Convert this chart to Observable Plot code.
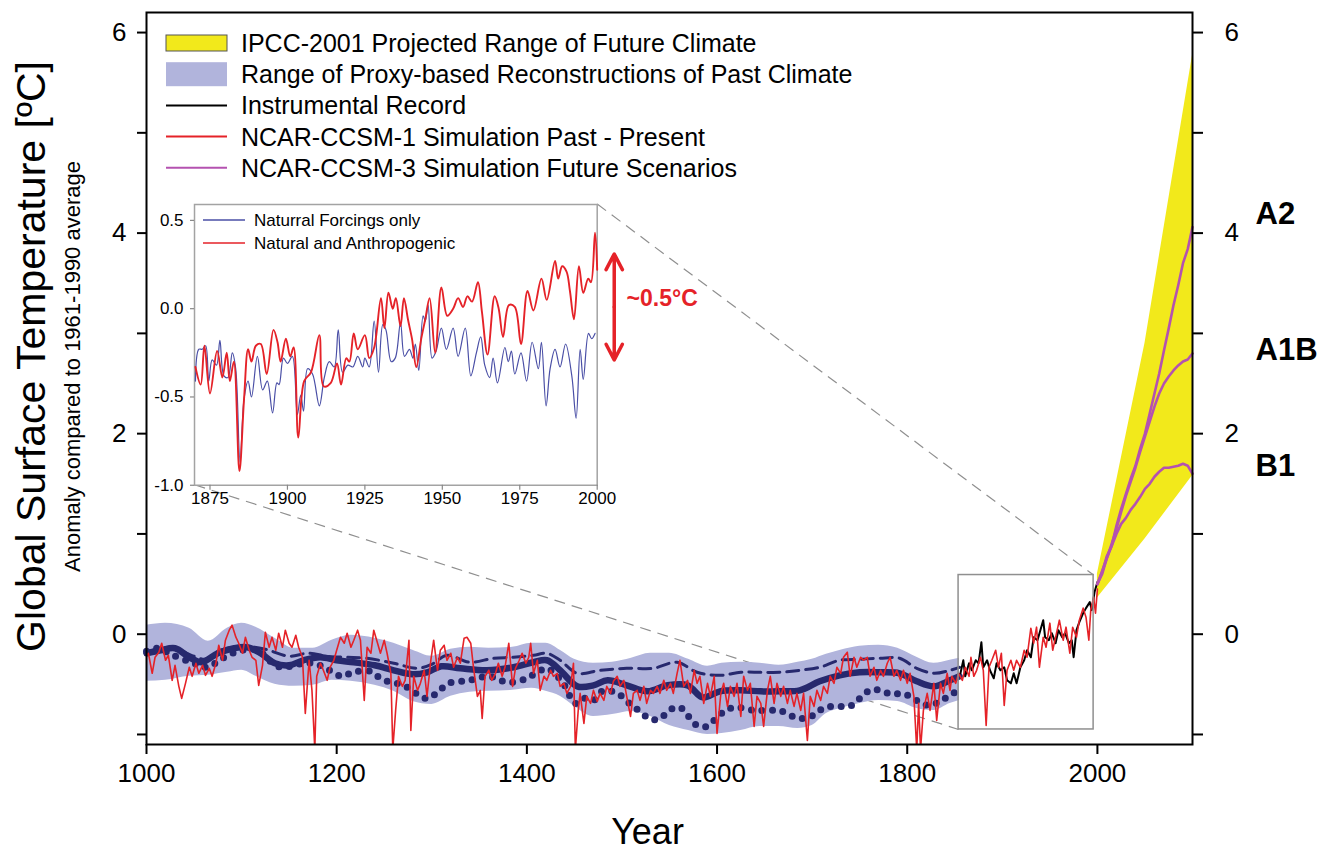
<!DOCTYPE html>
<html><head><meta charset="utf-8">
<script src="https://cdn.jsdelivr.net/npm/d3@7"></script>
<script src="https://cdn.jsdelivr.net/npm/@observablehq/plot@0.6"></script>
<style>
html,body{margin:0;padding:0;background:#fff;}
#wrap{position:relative;width:1325px;height:854px;overflow:hidden;font-family:"Liberation Sans",Arial,Helvetica,sans-serif;}
#wrap > svg{position:absolute;left:0;top:0;}
</style></head><body><div id="wrap"></div>
<script>
// ---------------- DATA ----------------
const xTicks = [1000, 1200, 1400, 1600, 1800, 2000];
const yTicks = [-1, 0, 1, 2, 3, 4, 5, 6];
const yLabelled = [0, 2, 4, 6];

// Range of proxy-based reconstructions (band)
const bandYears = [1000,1020,1045,1065,1085,1100,1115,1135,1155,1175,1195,1215,1240,1260,1280,1300,1320,1340,1360,1385,1405,1420,1435,1450,1470,1490,1510,1530,1550,1570,1590,1605,1625,1645,1665,1685,1700,1715,1730,1750,1770,1790,1810,1828,1845,1855];
const bandUpper = [0.09,0.11,0.06,-0.07,0.06,0.11,0.07,-0.04,-0.14,-0.14,-0.06,-0.01,-0.04,-0.09,-0.16,-0.22,-0.15,-0.13,-0.14,-0.13,-0.09,-0.09,-0.16,-0.25,-0.29,-0.28,-0.24,-0.19,-0.19,-0.25,-0.32,-0.29,-0.28,-0.29,-0.31,-0.28,-0.25,-0.20,-0.16,-0.12,-0.11,-0.14,-0.23,-0.29,-0.26,-0.24];
const bandLower = [-0.47,-0.46,-0.42,-0.41,-0.38,-0.36,-0.42,-0.50,-0.52,-0.51,-0.46,-0.47,-0.51,-0.57,-0.67,-0.70,-0.62,-0.58,-0.57,-0.56,-0.54,-0.57,-0.62,-0.72,-0.82,-0.80,-0.77,-0.82,-0.91,-0.96,-1.0,-0.99,-0.96,-0.92,-0.92,-0.94,-0.91,-0.79,-0.74,-0.69,-0.66,-0.67,-0.74,-0.76,-0.69,-0.66];

// Reconstructions (solid thick, dashed, dotted)
const reconSolid = [[1000,-0.19],[1015,-0.16],[1030,-0.14],[1045,-0.23],[1058,-0.28],[1075,-0.19],[1092,-0.14],[1106,-0.13],[1120,-0.19],[1135,-0.29],[1150,-0.31],[1165,-0.26],[1183,-0.23],[1200,-0.26],[1218,-0.28],[1240,-0.31],[1260,-0.36],[1280,-0.40],[1295,-0.38],[1310,-0.32],[1330,-0.34],[1358,-0.36],[1386,-0.33],[1407,-0.28],[1421,-0.26],[1435,-0.36],[1453,-0.52],[1470,-0.51],[1485,-0.46],[1505,-0.51],[1527,-0.57],[1548,-0.51],[1569,-0.51],[1585,-0.63],[1603,-0.57],[1625,-0.56],[1646,-0.57],[1666,-0.57],[1687,-0.56],[1708,-0.47],[1729,-0.41],[1750,-0.38],[1771,-0.38],[1792,-0.39],[1810,-0.47],[1828,-0.52],[1845,-0.46],[1855,-0.42]];
const reconDashed = [[1000,-0.18],[1025,-0.13],[1050,-0.22],[1062,-0.25],[1078,-0.16],[1100,-0.12],[1125,-0.15],[1150,-0.22],[1170,-0.19],[1190,-0.22],[1210,-0.23],[1232,-0.24],[1260,-0.29],[1285,-0.34],[1300,-0.30],[1316,-0.21],[1340,-0.28],[1365,-0.24],[1386,-0.23],[1407,-0.21],[1421,-0.19],[1435,-0.26],[1453,-0.39],[1477,-0.36],[1505,-0.34],[1533,-0.34],[1558,-0.28],[1579,-0.38],[1603,-0.41],[1625,-0.38],[1646,-0.38],[1666,-0.38],[1687,-0.36],[1708,-0.33],[1729,-0.26],[1750,-0.25],[1771,-0.24],[1792,-0.24],[1810,-0.34],[1828,-0.39],[1845,-0.36],[1855,-0.33]];
const reconDotted = [[1000,-0.17],[1012,-0.14],[1028,-0.21],[1050,-0.29],[1063,-0.33],[1072,-0.29],[1082,-0.23],[1100,-0.16],[1117,-0.16],[1127,-0.24],[1135,-0.31],[1144,-0.33],[1165,-0.29],[1175,-0.29],[1187,-0.33],[1196,-0.38],[1206,-0.42],[1217,-0.38],[1236,-0.37],[1246,-0.44],[1257,-0.48],[1267,-0.50],[1278,-0.55],[1288,-0.62],[1297,-0.64],[1307,-0.57],[1318,-0.49],[1339,-0.46],[1360,-0.42],[1380,-0.48],[1400,-0.44],[1411,-0.38],[1421,-0.34],[1430,-0.40],[1439,-0.50],[1451,-0.69],[1460,-0.64],[1470,-0.66],[1479,-0.57],[1490,-0.57],[1500,-0.62],[1510,-0.71],[1519,-0.77],[1530,-0.85],[1540,-0.84],[1551,-0.75],[1561,-0.73],[1570,-0.82],[1579,-0.91],[1589,-0.92],[1598,-0.85],[1609,-0.76],[1619,-0.73],[1640,-0.76],[1661,-0.76],[1672,-0.78],[1682,-0.83],[1692,-0.84],[1703,-0.80],[1713,-0.73],[1734,-0.72],[1744,-0.70],[1753,-0.61],[1764,-0.55],[1774,-0.57],[1784,-0.60],[1794,-0.59],[1805,-0.63],[1815,-0.69],[1826,-0.71],[1835,-0.66],[1846,-0.61],[1856,-0.52]];

// NCAR-CSM-1 simulation, past - present
const csm1 = [[999,-0.23],[1002,-0.19],[1006,-0.39],[1009,-0.23],[1013,-0.18],[1016,-0.09],[1020,-0.26],[1023,-0.21],[1027,-0.46],[1030,-0.31],[1034,-0.52],[1037,-0.64],[1041,-0.49],[1045,-0.33],[1048,-0.42],[1052,-0.29],[1055,-0.39],[1059,-0.31],[1062,-0.41],[1066,-0.34],[1069,-0.42],[1073,-0.29],[1076,-0.11],[1080,-0.26],[1083,-0.06],[1087,0.04],[1090,0.09],[1094,-0.03],[1097,-0.09],[1101,-0.19],[1104,-0.03],[1108,-0.16],[1111,-0.23],[1115,-0.26],[1118,-0.51],[1122,-0.31],[1125,0.02],[1129,-0.13],[1132,-0.03],[1136,-0.16],[1139,0.01],[1143,-0.13],[1146,0.04],[1150,-0.09],[1153,-0.13],[1157,-0.01],[1160,-0.13],[1164,-0.23],[1167,-0.79],[1171,-0.26],[1174,-0.56],[1177,-1.15],[1179,-0.42],[1183,-0.29],[1186,-0.36],[1190,-0.46],[1193,-0.33],[1197,-0.26],[1200,-0.16],[1204,-0.03],[1208,-0.09],[1211,0.01],[1215,-0.13],[1218,-0.06],[1222,0.04],[1225,-0.06],[1229,-0.66],[1232,-0.13],[1236,-0.19],[1239,0.04],[1243,-0.09],[1246,-0.19],[1250,-0.06],[1253,-0.19],[1257,-0.39],[1259,-1.15],[1262,-0.76],[1265,-0.42],[1269,-0.52],[1272,-0.46],[1276,-0.06],[1278,-0.96],[1281,-0.42],[1285,-0.56],[1288,-0.49],[1292,-0.36],[1295,-0.62],[1299,-0.26],[1302,-0.06],[1306,-0.36],[1309,-0.16],[1313,-0.11],[1316,-0.26],[1320,-0.19],[1323,-0.33],[1327,-0.23],[1330,-0.29],[1334,-0.04],[1337,-0.03],[1341,-0.09],[1344,-0.34],[1348,-0.62],[1351,-0.56],[1353,-0.84],[1356,-0.42],[1360,-0.36],[1363,-0.46],[1367,-0.39],[1370,-0.29],[1374,-0.42],[1377,-0.33],[1381,-0.09],[1385,-0.52],[1388,-0.34],[1392,-0.26],[1395,-0.19],[1399,-0.29],[1402,-0.23],[1404,-0.09],[1407,-0.39],[1411,-0.26],[1414,-0.56],[1418,-0.42],[1421,-0.46],[1425,-0.36],[1428,-0.42],[1432,-0.39],[1435,-0.52],[1439,-0.49],[1442,-0.59],[1446,-0.52],[1449,-0.29],[1451,-1.15],[1454,-0.76],[1456,-0.59],[1460,-0.89],[1463,-0.62],[1467,-0.69],[1470,-0.56],[1474,-0.67],[1477,-0.59],[1481,-0.66],[1484,-0.52],[1488,-0.59],[1491,-0.47],[1495,-0.42],[1498,-0.52],[1502,-0.46],[1505,-0.62],[1509,-0.82],[1512,-0.59],[1516,-0.56],[1519,-0.66],[1523,-0.52],[1526,-0.69],[1530,-0.56],[1533,-0.59],[1537,-0.52],[1540,-0.59],[1544,-0.46],[1547,-0.56],[1551,-0.49],[1554,-0.59],[1558,-0.39],[1561,-0.26],[1565,-0.52],[1569,-0.46],[1572,-0.59],[1576,-0.36],[1579,-0.49],[1582,-0.42],[1586,-0.69],[1590,-0.49],[1593,-0.62],[1597,-0.42],[1600,-0.99],[1604,-0.59],[1607,-0.49],[1611,-0.72],[1614,-0.52],[1618,-0.62],[1621,-0.49],[1625,-0.82],[1628,-0.42],[1632,-0.56],[1635,-0.49],[1639,-0.92],[1642,-0.62],[1646,-0.69],[1649,-0.92],[1653,-0.56],[1656,-0.42],[1660,-0.69],[1663,-0.49],[1667,-0.62],[1670,-0.52],[1674,-0.69],[1677,-0.56],[1681,-0.72],[1684,-0.59],[1688,-0.76],[1691,-0.59],[1695,-1.06],[1698,-0.62],[1702,-0.72],[1705,-0.56],[1709,-0.66],[1712,-0.52],[1716,-0.59],[1719,-0.42],[1723,-0.49],[1726,-0.33],[1730,-0.39],[1733,-0.23],[1737,-0.18],[1740,-0.42],[1744,-0.23],[1747,-0.33],[1751,-0.23],[1754,-0.26],[1758,-0.23],[1761,-0.42],[1765,-0.33],[1768,-0.46],[1772,-0.36],[1775,-0.42],[1779,-0.29],[1782,-0.23],[1786,-0.42],[1789,-0.36],[1793,-0.46],[1796,-0.36],[1800,-0.49],[1803,-0.39],[1807,-0.62],[1810,-1.15],[1812,-0.69],[1814,-1.15],[1817,-0.76],[1821,-0.59],[1824,-0.76],[1828,-0.49],[1831,-0.86],[1835,-0.49],[1838,-0.59],[1842,-0.39],[1845,-0.56],[1847,-0.42],[1851,-0.49],[1854,-0.39],[1858,-0.46],[1861,-0.33],[1865,-0.42],[1867,-0.23],[1870,-0.42],[1873,-0.36],[1877,-0.23],[1880,-0.36],[1883,-0.91],[1886,-0.33],[1889,-0.26],[1893,-0.16],[1896,-0.33],[1899,-0.19],[1902,-0.71],[1905,-0.36],[1909,-0.26],[1912,-0.36],[1915,-0.26],[1919,-0.33],[1923,-0.16],[1926,-0.23],[1930,0.06],[1933,-0.09],[1936,0.07],[1939,-0.33],[1943,-0.03],[1946,-0.13],[1950,0.11],[1953,-0.16],[1957,0.01],[1960,0.14],[1964,-0.06],[1967,0.07],[1971,-0.19],[1974,0.07],[1978,-0.03],[1981,0.14],[1985,0.26],[1988,0.17],[1991,-0.06],[1993,0.24],[1996,0.37],[1998,0.21],[2000,0.45]];

// Instrumental record
const instrumental = [[1856,-0.39],[1859,-0.26],[1861,-0.42],[1865,-0.29],[1868,-0.36],[1872,-0.26],[1875,-0.29],[1878,-0.08],[1880,-0.33],[1884,-0.26],[1887,-0.36],[1891,-0.44],[1894,-0.29],[1898,-0.36],[1902,-0.33],[1905,-0.46],[1909,-0.49],[1912,-0.39],[1915,-0.49],[1919,-0.33],[1923,-0.26],[1926,-0.16],[1930,-0.23],[1933,-0.03],[1937,-0.06],[1940,0.04],[1943,0.14],[1945,-0.03],[1949,-0.06],[1952,0.01],[1956,-0.09],[1959,0.04],[1963,-0.03],[1966,0.01],[1970,-0.09],[1973,-0.06],[1975,-0.23],[1978,0.04],[1981,0.12],[1985,0.21],[1988,0.26],[1992,0.32],[1994,0.24],[1997,0.42],[2000,0.52]];

// IPCC-2001 projected range
const ipccYears = [2000, 2050, 2100];
const ipccLow = [0.36, 0.95, 1.58];
const ipccHigh = [0.60, 2.90, 5.77];

// NCAR-CCSM-3 future scenarios
const scenA2 = [[2000,0.50],[2005,0.62],[2010,0.78],[2015,0.88],[2020,1.08],[2025,1.25],[2030,1.40],[2035,1.55],[2040,1.68],[2045,1.85],[2050,2.00],[2055,2.20],[2060,2.40],[2065,2.60],[2070,2.83],[2075,3.05],[2080,3.28],[2085,3.48],[2090,3.70],[2095,3.84],[2100,4.06]];
const scenA1B = [[2000,0.50],[2005,0.60],[2010,0.76],[2015,0.90],[2020,1.05],[2025,1.22],[2030,1.38],[2035,1.52],[2040,1.66],[2045,1.82],[2050,1.97],[2055,2.12],[2060,2.27],[2065,2.40],[2070,2.50],[2075,2.57],[2080,2.63],[2085,2.68],[2090,2.72],[2095,2.74],[2100,2.80]];
const scenB1 = [[2000,0.50],[2005,0.63],[2010,0.76],[2015,0.88],[2020,1.00],[2025,1.10],[2030,1.16],[2035,1.24],[2040,1.30],[2045,1.37],[2050,1.45],[2055,1.50],[2060,1.57],[2065,1.62],[2070,1.66],[2075,1.66],[2080,1.67],[2085,1.68],[2090,1.70],[2095,1.68],[2100,1.60]];
const scenarioNames = ["A2", "A1B", "B1"];
const scenarioLabelY = [4.19, 2.83, 1.68];

// Inset: 1870-2000 simulations
const insetXTicks = [1875, 1900, 1925, 1950, 1975, 2000];
const insetYTicks = [-1.0, -0.5, 0.0, 0.5];
const natAnth = [[1870.3,-0.33],[1872,-0.43],[1873.2,-0.21],[1875,-0.48],[1877.3,-0.24],[1879,-0.39],[1880.4,-0.25],[1881.4,-0.41],[1882.7,-0.30],[1884.5,-0.92],[1886,-0.51],[1887.3,-0.23],[1888.4,-0.30],[1889.8,-0.21],[1891.4,-0.20],[1893.3,-0.37],[1895.5,-0.12],[1896.8,-0.19],[1897.8,-0.30],[1899.5,-0.17],[1900.9,-0.27],[1902,-0.22],[1903.5,-0.73],[1905.4,-0.41],[1907.6,-0.36],[1910.3,-0.15],[1911.7,-0.44],[1914,-0.42],[1916,-0.31],[1917.3,-0.43],[1919,-0.28],[1920,-0.30],[1921.4,-0.14],[1922.7,-0.23],[1925,-0.15],[1926.4,-0.28],[1928,-0.22],[1930.2,0.06],[1931.3,-0.11],[1932.6,0.09],[1934,0.0],[1935,0.06],[1936.5,-0.10],[1937.6,0.06],[1938.9,-0.06],[1940.2,-0.17],[1941.6,-0.33],[1943.2,-0.17],[1944.5,-0.06],[1945.9,0.06],[1947.7,-0.25],[1949.7,0.12],[1951.6,-0.04],[1953.5,0.0],[1955.1,0.06],[1956.7,0.01],[1958.1,0.07],[1959.6,0.04],[1961.5,0.15],[1962.8,-0.02],[1964.6,-0.26],[1966.9,0.07],[1968.2,0.0],[1969.6,-0.16],[1971.5,0.02],[1973.4,0.01],[1975.4,-0.20],[1977.5,0.10],[1979.4,-0.01],[1982,0.17],[1983.7,0.05],[1986.4,0.27],[1987.4,0.17],[1988.7,0.24],[1990.1,0.21],[1991.2,0.10],[1992.5,-0.06],[1994.1,0.24],[1995.5,0.09],[1997.1,0.17],[1998,0.15],[1999.3,0.43],[2000,0.22]];
const natOnly = [[1870.3,-0.41],[1871.4,-0.23],[1872.5,-0.23],[1873.6,-0.21],[1874.6,-0.41],[1875.7,-0.29],[1877.1,-0.32],[1878.2,-0.18],[1879.5,-0.38],[1880.8,-0.39],[1882.2,-0.25],[1883.3,-0.34],[1884.7,-0.87],[1886,-0.51],[1887.3,-0.41],[1888.4,-0.50],[1890.3,-0.27],[1892,-0.46],[1893.5,-0.41],[1895.2,-0.59],[1896.6,-0.42],[1897.3,-0.43],[1898.7,-0.28],[1900,-0.31],[1901.6,-0.27],[1903.2,-0.60],[1904.3,-0.49],[1905.2,-0.58],[1906.5,-0.34],[1908.1,-0.37],[1910.3,-0.55],[1911.9,-0.39],[1913.5,-0.30],[1915.1,-0.33],[1916.4,-0.12],[1917.8,-0.36],[1919.5,-0.32],[1921.1,-0.33],[1922.7,-0.27],[1924.3,-0.33],[1925,-0.28],[1926.4,-0.33],[1928,-0.07],[1929.4,-0.36],[1930.8,-0.09],[1931.8,-0.12],[1933.5,-0.30],[1934.8,-0.28],[1936.5,-0.08],[1937.8,-0.27],[1939.4,-0.23],[1940.5,-0.28],[1941.3,-0.20],[1942.4,-0.35],[1943.8,-0.04],[1944.5,-0.07],[1945.4,0.02],[1946.7,-0.28],[1948,-0.24],[1949.7,-0.11],[1951.3,-0.23],[1953.5,-0.11],[1955.1,-0.27],[1957.4,-0.11],[1959.2,-0.38],[1961,-0.25],[1962.4,-0.16],[1963.7,-0.32],[1965.3,-0.39],[1966.4,-0.28],[1967.8,-0.42],[1970.2,-0.22],[1971.3,-0.30],[1972.3,-0.24],[1973.4,-0.37],[1975.4,-0.25],[1977.2,-0.41],[1979,-0.19],[1981,-0.34],[1982,-0.19],[1983.5,-0.55],[1984.8,-0.34],[1986.4,-0.23],[1988,-0.33],[1989.8,-0.20],[1991.8,-0.38],[1993.2,-0.62],[1994.5,-0.23],[1995.5,-0.40],[1997.2,-0.14],[1998.2,-0.17],[1999.3,-0.14]];
const deltaArrow = {x: 2005.5, top: 0.31, bottom: -0.29, mid: 0.01, labelX: 2009.5, labelY: 0.055, label: "~0.5°C"};

// Text
const yTitle = "Global Surface Temperature [ºC]";
const ySubtitle = "Anomaly compared to 1961-1990 average";
const xTitle = "Year";
const legendLabels = ["IPCC-2001 Projected Range of Future Climate","Range of Proxy-based Reconstructions of Past Climate","Instrumental Record","NCAR-CCSM-1 Simulation Past - Present","NCAR-CCSM-3 Simulation Future Scenarios"];
const insetLegendLabels = ["Naturral Forcings only", "Natural and Anthropogenic"];

// Layout (main-data coordinates for the zoom box and inset placement)
const zoomBox = {x1: 1854, x2: 1996, y1: -0.95, y2: 0.59};
const insetBox = {x1: 1050.5, x2: 1474, y1: 1.49, y2: 4.29};

// ---------------- STYLE ----------------
const FONT = '"Liberation Sans", Arial, Helvetica, sans-serif';
const YELLOW = "#f2e91b", BAND = "#b1b4dc", NAVY = "#27296e", RED = "#e52228", MAGENTA = "#b452b0", GREY = "#8f8f8f", INBLUE = "#4a4fa6";
const W = 1325, H = 854, ML = 146, MR = 133, MT = 12, MB = 110;

const band = bandYears.map((year, i) => ({year, lo: bandLower[i], hi: bandUpper[i]}));
const ipcc = ipccYears.map((year, i) => ({year, lo: ipccLow[i], hi: ipccHigh[i]}));
const scenarios = [scenA2, scenA1B, scenB1].flatMap((s, k) => s.map(([year, t]) => ({scenario: scenarioNames[k], year, t})));
const scenLabels = scenarioNames.map((name, i) => ({name, y: scenarioLabelY[i]}));
const connectors = [
  {x1: insetBox.x2, y1: insetBox.y2, x2: zoomBox.x2, y2: zoomBox.y2},
  {x1: insetBox.x1, y1: insetBox.y1, x2: zoomBox.x1, y2: zoomBox.y1}
];
const X = d => d[0], Y = d => d[1];

const main = Plot.plot({
  width: W, height: H, marginLeft: ML, marginRight: MR, marginTop: MT, marginBottom: MB,
  x: {domain: [1000, 2100]},
  y: {domain: [-1.1, 6.2]},
  style: {fontFamily: FONT, background: "white", color: "black"},
  marks: [
    Plot.link(connectors, {x1: "x1", y1: "y1", x2: "x2", y2: "y2", stroke: GREY, strokeWidth: 1.2, strokeDasharray: "11,7"}),
    Plot.areaY(band, {x: "year", y1: "lo", y2: "hi", fill: BAND, curve: "monotone-x"}),
    Plot.areaY(ipcc, {x: "year", y1: "lo", y2: "hi", fill: YELLOW}),
    Plot.line(reconDotted, {x: X, y: Y, stroke: NAVY, strokeWidth: 7, strokeDasharray: "0,10.5", strokeLinecap: "round", curve: "catmull-rom"}),
    Plot.line(reconDashed, {x: X, y: Y, stroke: NAVY, strokeWidth: 3, strokeDasharray: "12,7", curve: "catmull-rom"}),
    Plot.line(reconSolid, {x: X, y: Y, stroke: NAVY, strokeWidth: 6.5, curve: "catmull-rom"}),
    Plot.line(instrumental, {x: X, y: Y, stroke: "black", strokeWidth: 2}),
    Plot.line(csm1, {x: X, y: Y, stroke: RED, strokeWidth: 1.6, clip: true}),
    Plot.line(scenarios, {x: "year", y: "t", z: "scenario", stroke: MAGENTA, strokeWidth: 2.6}),
    Plot.rect([zoomBox], {x1: "x1", x2: "x2", y1: "y1", y2: "y2", fill: "none", stroke: GREY, strokeWidth: 1.5}),
    Plot.axisX({ticks: xTicks, tickFormat: d => String(d), tickSize: 10, tickPadding: 9, fontSize: 26, strokeWidth: 2, label: null}),
    Plot.axisY({anchor: "left", ticks: yTicks, tickFormat: d => yLabelled.includes(d) ? String(d) : "", tickSize: 9, tickPadding: 11, fontSize: 26, strokeWidth: 2, label: null}),
    Plot.axisY({anchor: "right", ticks: yTicks, tickFormat: d => yLabelled.includes(d) ? String(d) : "", tickSize: 10, tickPadding: 22, fontSize: 26, strokeWidth: 2, label: null}),
    Plot.frame({stroke: "black", strokeWidth: 2}),
    Plot.text(scenLabels, {x: () => 2100, y: "y", text: "name", dx: 63, textAnchor: "start", fontWeight: "bold", fontSize: 31}),
    Plot.text([yTitle], {text: d => d, frameAnchor: "left", textAnchor: "middle", lineAnchor: "middle", dx: -115, dy: -22, rotate: -90, fontSize: 41}),
    Plot.text([ySubtitle], {text: d => d, frameAnchor: "left", textAnchor: "middle", lineAnchor: "middle", dx: -74, dy: -12, rotate: -90, fontSize: 22}),
    Plot.text([xTitle], {text: d => d, frameAnchor: "bottom", textAnchor: "middle", lineAnchor: "middle", dx: -22, dy: 88, fontSize: 36})
  ]
});
const wrap = document.getElementById("wrap");
wrap.appendChild(main);

// scale helpers
const sx = main.scale("x"), sy = main.scale("y");
const px = v => sx.apply ? sx.apply(v) : ML + (v - 1000) / 1100 * (W - ML - MR);
const py = v => sy.apply ? sy.apply(v) : MT + (6.2 - v) / 7.3 * (H - MT - MB);

// ---------------- INSET ----------------
const iL = px(insetBox.x1), iR = px(insetBox.x2), iT = py(insetBox.y2), iB = py(insetBox.y1);
const iml = 50, imr = 125, imt = 4, imb = 30;
const inset = Plot.plot({
  width: (iR - iL) + iml + imr, height: (iB - iT) + imt + imb,
  marginLeft: iml, marginRight: imr, marginTop: imt, marginBottom: imb,
  x: {domain: [1870, 2000]},
  y: {domain: [-1.0, 0.59]},
  style: {fontFamily: FONT, background: "transparent", color: "black", overflow: "visible"},
  marks: [
    Plot.frame({fill: "white", stroke: "#a3a3a3", strokeWidth: 1.5}),
    Plot.line(natOnly, {x: X, y: Y, stroke: INBLUE, strokeWidth: 1.2, curve: "catmull-rom"}),
    Plot.line(natAnth, {x: X, y: Y, stroke: RED, strokeWidth: 1.9, curve: "catmull-rom"}),
    Plot.axisX({ticks: insetXTicks, tickFormat: d => String(d), tickSize: 5, tickPadding: 2, fontSize: 17, stroke: "#888", strokeWidth: 1.2, label: null}),
    Plot.axisY({ticks: insetYTicks, tickFormat: d => d.toFixed(1), tickSize: 4, tickPadding: 7, fontSize: 17, stroke: "#888", strokeWidth: 1.2, label: null}),
    Plot.arrow([deltaArrow], {x1: "x", x2: "x", y1: "mid", y2: "top", stroke: RED, strokeWidth: 3.5, headLength: 16, headAngle: 55}),
    Plot.arrow([deltaArrow], {x1: "x", x2: "x", y1: "mid", y2: "bottom", stroke: RED, strokeWidth: 3.5, headLength: 16, headAngle: 55}),
    Plot.text([deltaArrow], {x: "labelX", y: "labelY", text: "label", textAnchor: "start", fill: RED, fontWeight: "bold", fontSize: 23})
  ]
});
inset.style.left = (iL - iml) + "px";
inset.style.top = (iT - imt) + "px";
wrap.appendChild(inset);

// ---------------- LEGENDS ----------------
const ov = d3.select(wrap).append("svg").attr("width", W).attr("height", H)
  .style("position", "absolute").style("left", 0).style("top", 0).style("pointer-events", "none")
  .style("font-family", FONT);
const legendKinds = [
  {type: "box", fill: YELLOW, stroke: "#555", h: 16},
  {type: "box", fill: BAND, stroke: "none", h: 24},
  {type: "line", stroke: "black"},
  {type: "line", stroke: RED},
  {type: "line", stroke: MAGENTA}
];
legendLabels.forEach((label, i) => {
  const cy = 43 + i * 31.2, k = legendKinds[i];
  if (k.type === "box") ov.append("rect").attr("x", 166).attr("y", cy - k.h / 2).attr("width", 61).attr("height", k.h).attr("fill", k.fill).attr("stroke", k.stroke);
  else ov.append("line").attr("x1", 166).attr("x2", 227).attr("y1", cy).attr("y2", cy).attr("stroke", k.stroke).attr("stroke-width", 2);
  ov.append("text").attr("x", 241).attr("y", cy).attr("dy", "0.36em").attr("font-size", 25).text(label);
});
const insetLegendColors = [INBLUE, RED];
insetLegendLabels.forEach((label, i) => {
  const cy = 220 + i * 23;
  ov.append("line").attr("x1", 203).attr("x2", 245).attr("y1", cy).attr("y2", cy).attr("stroke", insetLegendColors[i]).attr("stroke-width", 1.5);
  ov.append("text").attr("x", 254).attr("y", cy).attr("dy", "0.36em").attr("font-size", 17).text(label);
});
</script></body></html>
